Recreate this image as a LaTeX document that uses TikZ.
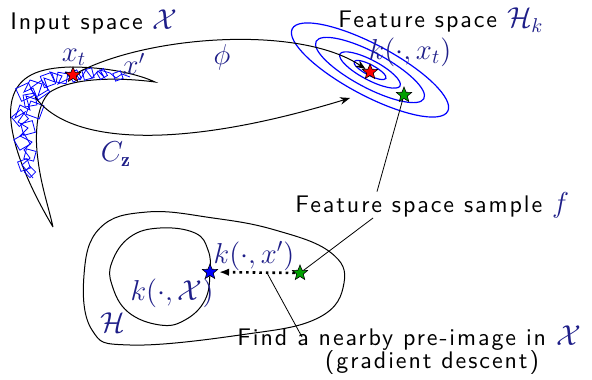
\documentclass[tikz,border=0pt]{standalone}
\usepackage{fontspec}
\setsansfont{lmsans10-regular.otf}[LetterSpace=8]
\usetikzlibrary{arrows.meta, shapes.geometric, calc}
\definecolor{mathblue}{HTML}{1E1E88}
\definecolor{stargreen}{HTML}{00A000}
\newcommand{\mlab}[1]{{\Large\color{mathblue}$#1$}}

\begin{document}
\begin{tikzpicture}[x=0.5pt, y=0.5pt,
   txt/.style={font=\large\sffamily, inner sep=0pt},
   mlabel/.style={inner sep=0pt},
   pt/.style={star, star points=5, star point ratio=2.3, draw=black, line width=0.3pt, inner sep=0pt, minimum size=8pt},
   level/.style={blue, line width=0.6pt},
   walk/.style={blue, line width=0.4pt},
   leader/.style={line width=0.4pt}]
   \useasboundingbox (0,0) rectangle (592,-379);
   % Input space (crescent)
   \draw[line width=0.5pt] (53,-227) .. controls (25,-180) and (5,-130) .. (12,-100)
      .. controls (18,-75) and (40,-68) .. (70,-67) .. controls (110,-67) and (140,-75) .. (155,-82)
      .. controls (125,-78) and (75,-76) .. (50,-92) .. controls (35,-105) and (35,-140) .. (38,-160)
      .. controls (41,-185) and (48,-205) .. (53,-227);
   % Random walk in input space
   \draw[walk] (33,-178) -- (22,-165) -- (30,-158) -- (24,-150) -- (32,-142) -- (20,-136) -- (28,-128)
      -- (18,-122) -- (25,-112) -- (15,-118) -- (20,-105) -- (30,-110) -- (26,-96) -- (38,-100)
      -- (33,-88) -- (24,-92) -- (30,-80) -- (42,-84) -- (38,-96) -- (48,-90) -- (44,-78) -- (55,-82)
      -- (50,-72) -- (62,-76) -- (58,-84) -- (70,-78) -- (66,-72) -- (76,-74) -- (80,-80) -- (86,-70)
      -- (92,-78) -- (98,-71) -- (104,-77) -- (100,-70) -- (110,-73) -- (116,-78) -- (122,-74) -- (130,-77);
   \foreach \cx/\cy/\s/\r in {30/-172/8/45, 24/-165/10/20, 30/-155/10/-15, 22/-142/12/30, 28/-128/12/15,
         20/-118/12/40, 35/-110/14/-20, 25/-92/14/25, 30/-100/12/10, 40/-90/14/35, 48/-80/12/20,
         62/-78/10/-10, 75/-76/9/30, 88/-74/10/15, 102/-74/8/30, 118/-76/8/20}
      \draw[walk, rotate around={\r:(\cx,\cy)}] (\cx-\s/2,\cy-\s/2) rectangle ++(\s,\s);
   % Feature space level sets
   \foreach \a in {18,34,61,88}
      \draw[level, rotate around={-28:(370,-70)}] (370,-70) ellipse ({\a} and {0.29*\a});
   % Lower part: H and k(.,X)
   \draw[line width=0.5pt] plot[smooth cycle, tension=0.7] coordinates {(84,-275) (100,-228) (147,-212)
      (213,-218) (275,-230) (330,-252) (344,-283) (318,-318) (240,-335) (130,-345) (92,-330)};
   \draw[line width=0.5pt] plot[smooth cycle, tension=0.7] coordinates {(112,-262) (130,-237) (160,-228)
      (195,-233) (208,-250) (210,-272) (205,-300) (185,-320) (160,-325) (128,-312) (112,-285)};
   % Points
   \node[pt, fill=red] (xt) at (73,-75) {};
   \node[pt, fill=red] (kxt) at (370,-72) {};
   \node[pt, fill=stargreen] (fh) at (404,-95) {};
   \node[pt, fill=blue] (kx) at (210,-272) {};
   \node[pt, fill=stargreen] (f) at (300,-273) {};
   \coordinate (czstart) at (35,-97);
   \coordinate (czend) at (350,-98);
   % Labels
   \node[txt, anchor=base west] (inspace) at (10,-29.5) {Input space \mlab{\mathcal{X}}};
   \node[txt, anchor=base west] (fspace) at (338,-28) {Feature space \mlab{\mathcal{H}_k}};
   \node[mlabel] (xtlab) at (74,-57) {\mlab{x_t}};
   \node[mlabel] (xplab) at (134,-64) {\mlab{x'}};
   \node[mlabel] (philab) at (222,-57) {\mlab{\phi}};
   \node[mlabel] (czlab) at (116,-154) {\mlab{C_{\mathbf{z}}}};
   \node[mlabel] (kxtlab) at (410,-52) {\mlab{k(\cdot,x_t)}};
   \node[txt, anchor=base west] (fsample) at (295,-212) {Feature space sample \mlab{f}};
   \node[mlabel] (kxplab) at (254,-256) {\mlab{k(\cdot,x')}};
   \node[mlabel] (kXlab) at (172,-293) {\mlab{k(\cdot,\mathcal{X})}};
   \node[mlabel] (Hlab) at (113,-323) {\mlab{\mathcal{H}}};
   \node[txt, anchor=base west] (preimg) at (237,-345) {Find a nearby pre-image in \mlab{\mathcal{X}}};
   \node[txt, anchor=base] (preimgsub) at (432,-368) {(gradient descent)};
   % Maps
   \draw[-{Stealth[length=5pt]}, line width=0.5pt] (xt) .. controls (150,-35) and (300,-25) .. (kxt);
   \draw[-{Stealth[length=5pt]}, line width=0.5pt] (czstart) .. controls (70,-145) and (180,-150) .. (czend);
   \draw[dotted, line width=1.3pt, -{Latex[length=5pt]}, shorten >=2pt] (f) -- coordinate[pos=0.35] (dotmid) (kx);
   % Leaders
   \draw[leader] (fh) -- ($(fsample.north west)+(82,0)$);
   \draw[leader] ($(fsample.south west)+(78,0)$) -- (f);
   \draw[leader] (dotmid) -- ($(preimg.base west)+(65,8)$);
\end{tikzpicture}
\end{document}
